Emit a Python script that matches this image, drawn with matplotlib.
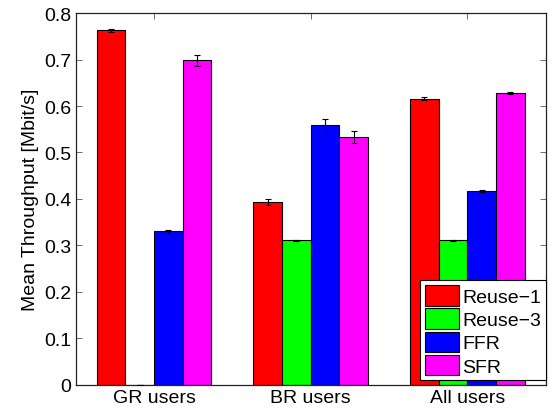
import numpy as np
import matplotlib
matplotlib.use("Agg")
import matplotlib.pyplot as plt

plt.rcParams['font.family'] = ['Liberation Sans', 'DejaVu Sans']

groups = ["GR users", "BR users", "All users"]
schemes = ["Reuse\u22121", "Reuse\u22123", "FFR", "SFR"]
colors = ["#ff0000", "#00ff00", "#0000ff", "#ff00ff"]

# mean throughput per scheme, order: GR, BR, All
reuse1 = [0.763, 0.394, 0.616]
reuse3 = [0.0, 0.311, 0.311]
ffr = [0.330, 0.560, 0.418]
sfr = [0.698, 0.533, 0.628]

reuse1_err = [0.003, 0.006, 0.003]
reuse3_err = [0.0, 0.001, 0.001]
ffr_err = [0.004, 0.013, 0.002]
sfr_err = [0.011, 0.013, 0.003]

values = [reuse1, reuse3, ffr, sfr]
errors = [reuse1_err, reuse3_err, ffr_err, sfr_err]

fig = plt.figure(figsize=(5.53, 4.14), dpi=100)
ax = fig.add_axes([0.137, 0.068, 0.850, 0.898])

x = np.arange(1, len(groups) + 1)
w = 0.183
for i in range(len(schemes)):
    pos = x + (i - 1.5) * w
    ax.bar(pos, values[i], width=w, color=colors[i], edgecolor="black",
           linewidth=0.8, label=schemes[i], zorder=2)
    ax.errorbar(pos, values[i], yerr=errors[i], fmt="none", ecolor="black",
                elinewidth=0.8, capsize=2.5, capthick=0.8, zorder=3)

ax.set_xlim(0.5, 3.5)
ax.set_ylim(0, 0.8)
ax.set_xticks(x)
ax.set_xticklabels(groups)
ax.set_yticks(np.arange(0, 0.81, 0.1))
ax.set_yticklabels(["0"] + ["%.1f" % v for v in np.arange(0.1, 0.81, 0.1)])
ax.tick_params(direction="in", top=True, right=True, labelsize=14,
               length=4, width=0.6, color="#555555", pad=3)
ax.set_ylabel("Mean Throughput [Mbit/s]", fontsize=14, labelpad=4)
for s in ax.spines.values():
    s.set_linewidth(0.9)
    s.set_color("#222222")

leg = ax.legend(loc="lower right", bbox_to_anchor=(1.0, 0.012), fontsize=14,
                fancybox=False, edgecolor="black", framealpha=1,
                borderaxespad=0.0, handlelength=1.75, handleheight=1.25,
                handletextpad=0.15, labelspacing=0.12, borderpad=0.25)
leg.get_frame().set_linewidth(0.8)

fig.savefig("out.png", dpi=100)
